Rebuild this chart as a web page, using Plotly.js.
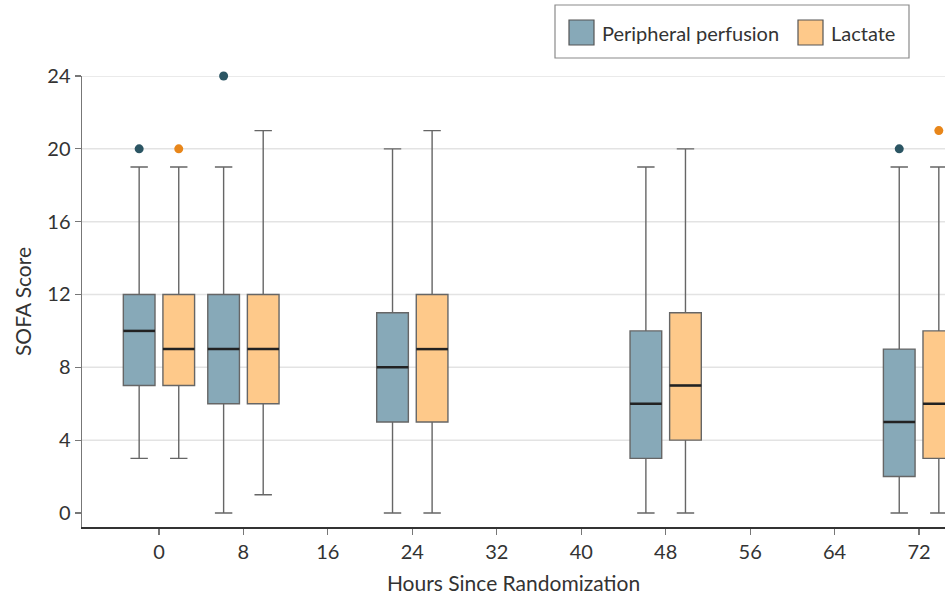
<!DOCTYPE html>
<html>
<head>
<meta charset="utf-8">
<script src="https://cdn.plot.ly/plotly-3.0.1.min.js"></script>
<style>
html,body{margin:0;padding:0;background:#fff;overflow:hidden;}
#chart{width:945px;height:598px;}
</style>
</head>
<body>
<div id="chart"></div>
<script>
// ---- data ----
const hours = [0, 8, 24, 48, 72];
const ppQ1   = [7, 6, 5, 3, 2];
const ppMed  = [10, 9, 8, 6, 5];
const ppQ3   = [12, 12, 11, 10, 9];
const ppLow  = [3, 0, 0, 0, 0];
const ppHigh = [19, 19, 20, 19, 19];
const laQ1   = [7, 6, 5, 4, 3];
const laMed  = [9, 9, 9, 7, 6];
const laQ3   = [12, 12, 12, 11, 10];
const laLow  = [3, 1, 0, 0, 0];
const laHigh = [19, 21, 21, 20, 19];
const ppOutHours = [0, 8, 72];
const ppOutVals  = [20, 24, 20];
const laOutHours = [0, 72];
const laOutVals  = [20, 21];
const xTicks = [0, 8, 16, 24, 32, 40, 48, 56, 64, 72];
const yTicks = [0, 4, 8, 12, 16, 20, 24];
const seriesNames = ['Peripheral perfusion', 'Lactate'];

// ---- style ----
const ppFill = '#87a9b8', laFill = '#fec98a';
const ppDot = '#2b5563', laDot = '#e8861a';
const OFF = 1.875, BW = 3;
const FONT = 'Lato, "Open Sans", sans-serif';

const ppX = hours.map(h => h - OFF);
const laX = hours.map(h => h + OFF);

function boxTrace(name, x, q1, med, q3, lo, hi, fill) {
  return {
    type: 'box', name: name, x: x, q1: q1, median: med, q3: q3,
    lowerfence: lo, upperfence: hi, width: BW, whiskerwidth: 0.55,
    fillcolor: fill, line: {color: '#666', width: 1.4},
    boxpoints: false, showlegend: false, hoverinfo: 'skip'
  };
}
function medianTrace(x, med) {
  const xs = [], ys = [];
  x.forEach((p, i) => { xs.push(p - BW / 2, p + BW / 2, null); ys.push(med[i], med[i], null); });
  return {type: 'scatter', mode: 'lines', x: xs, y: ys, line: {color: '#222', width: 2.5},
          showlegend: false, hoverinfo: 'skip'};
}
function outlierTrace(hrs, vals, off, color) {
  return {type: 'scatter', mode: 'markers', x: hrs.map(h => h + off), y: vals,
          marker: {color: color, size: 9}, cliponaxis: false, showlegend: false, hoverinfo: 'skip'};
}

const traces = [
  boxTrace(seriesNames[0], ppX, ppQ1, ppMed, ppQ3, ppLow, ppHigh, ppFill),
  boxTrace(seriesNames[1], laX, laQ1, laMed, laQ3, laLow, laHigh, laFill),
  medianTrace(ppX, ppMed),
  medianTrace(laX, laMed),
  outlierTrace(ppOutHours, ppOutVals, -OFF, ppDot),
  outlierTrace(laOutHours, laOutVals, OFF, laDot)
];

// plot area in pixels
const L = 82, T = 76, W = 945 - 82, H = 527 - 76;
const px = x => (x - L) / W;
const py = y => (T + H - y) / H;

const shapes = [];
// horizontal grid lines (not at zero)
yTicks.filter(v => v !== 0).forEach(v => shapes.push({
  type: 'line', xref: 'paper', yref: 'y', x0: 0, x1: 1, y0: v, y1: v,
  line: {color: '#e3e3e3', width: 1.5}, layer: 'below'
}));
// legend frame and swatches
shapes.push({type: 'rect', xref: 'paper', yref: 'paper', x0: px(555), x1: px(909), y0: py(5), y1: py(58),
  line: {color: '#8a8a8a', width: 1.2}, fillcolor: '#fff'});
shapes.push({type: 'rect', xref: 'paper', yref: 'paper', x0: px(569), x1: px(594), y0: py(20), y1: py(45),
  line: {color: '#555', width: 1.2}, fillcolor: ppFill});
shapes.push({type: 'rect', xref: 'paper', yref: 'paper', x0: px(798), x1: px(823), y0: py(20), y1: py(45),
  line: {color: '#555', width: 1.2}, fillcolor: laFill});

const annotations = [
  {xref: 'paper', yref: 'paper', x: px(600), y: py(32.5), text: seriesNames[0], showarrow: false,
   xanchor: 'left', yanchor: 'middle', font: {family: FONT, size: 20, color: '#333'}},
  {xref: 'paper', yref: 'paper', x: px(829), y: py(32.5), text: seriesNames[1], showarrow: false,
   xanchor: 'left', yanchor: 'middle', font: {family: FONT, size: 20, color: '#333'}}
];

const layout = {
  width: 945, height: 598,
  margin: {l: L, r: 0, t: T, b: 598 - 527},
  paper_bgcolor: '#fff', plot_bgcolor: '#fff',
  boxmode: 'overlay',
  font: {family: FONT, color: '#333'},
  showlegend: false,
  xaxis: {
    range: [-7.29, 74.46], tickvals: xTicks, ticktext: xTicks.map(String),
    showgrid: false, zeroline: false, showline: true, linecolor: '#333', linewidth: 1.5,
    ticks: 'outside', ticklen: 6, tickwidth: 1.2, tickcolor: '#777',
    tickfont: {family: FONT, size: 20, color: '#333'},
    title: {text: 'Hours Since Randomization', font: {family: FONT, size: 21, color: '#333'}, standoff: 15}
  },
  yaxis: {
    range: [-0.77, 24], tickvals: yTicks, ticktext: yTicks.map(String),
    showgrid: false, zeroline: false, showline: true, linecolor: '#777', linewidth: 1.5,
    ticks: 'outside', ticklen: 6, tickwidth: 1.2, tickcolor: '#777',
    tickfont: {family: FONT, size: 20, color: '#333'},
    title: {text: 'SOFA Score', font: {family: FONT, size: 21, color: '#333'}, standoff: 10}
  },
  shapes: shapes,
  annotations: annotations
};

Plotly.newPlot('chart', traces, layout, {displayModeBar: false, staticPlot: true});
</script>
</body>
</html>
